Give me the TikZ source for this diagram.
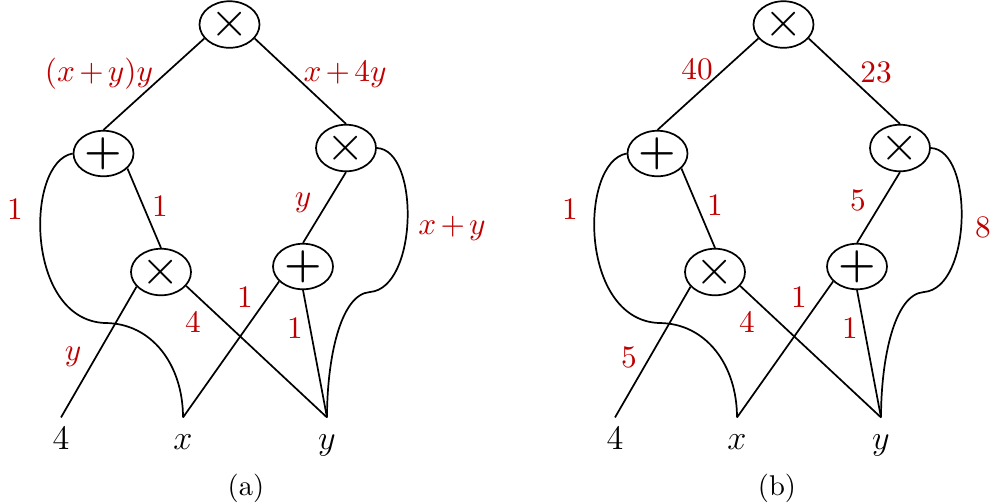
\documentclass[tikz,border=0pt]{standalone}
\usetikzlibrary{shapes.geometric}
\definecolor{lblred}{RGB}{192,0,0}
\newcommand\lblfont{\fontsize{11}{13}\selectfont\medmuskip=2.5mu\relax}
\newcommand\timesop{\fontsize{18}{18}\selectfont$\times$}
\tikzset{
  op/.style={ellipse, draw, line width=0.6pt, minimum width=21pt, minimum height=12.2pt, inner sep=0pt, font={\fontsize{15}{15}\selectfont}},
  leaf/.style={anchor=base, inner sep=0pt, text height=10.85pt, font={\fontsize{11.5}{13}\selectfont}},
  lbl/.style={text=lblred, inner sep=0pt, font=\lblfont},
  edge/.style={line width=0.6pt},
}
\newcommand\drawtree{%
  \node[op] (top) at (229.5,24.5) {\timesop};
  \node[op] (lp) at (103.5,153.5) {\bfseries +};
  \node[op] (rx) at (346,148) {\timesop};
  \node[op] (lx) at (161,272) {\timesop};
  \node[op] (lq) at (303,266.5) {\bfseries +};
  \node[leaf] (n4) at (61,449) {$4$};
  \node[leaf] (nx) at (183,449) {$x$};
  \node[leaf] (ny) at (327,449) {$y$};
  \draw[edge] (top.209) -- (lp.north);
  \draw[edge] (top.-29) -- (rx.north);
  \draw[edge] (lp.-32) -- (lx.north);
  \draw[edge] (rx.south) -- (lq.north);
  \draw[edge] (lx.211) -- (n4.north);
  \draw[edge] (lx.-29) -- (ny.north);
  \draw[edge] (lq.212) -- (nx.north);
  \draw[edge] (lq.south) -- (ny.north);
  \draw[edge] (lp.west) .. controls (25,162) and (25,320) .. (105,323)
        .. controls (152,323) and (183,365) .. (nx.north);
  \draw[edge] (rx.east) .. controls (420,150) and (418,288) .. (370,292)
        .. controls (340,294) and (327,360) .. (ny.north);
}
\begin{document}
\begin{tikzpicture}[x=0.35pt,y=-0.35pt]
\useasboundingbox (0,0) rectangle (990,503);
\begin{scope}[name prefix=a-]
  \drawtree
  \node[lbl] (a-l1) at (99,74) {$(x+y)y$};
  \node[lbl] (a-l2) at (345,74) {$x+4y$};
  \node[lbl] (a-l3) at (15,209) {$1$};
  \node[lbl] (a-l4) at (160,206) {$1$};
  \node[lbl] (a-l5) at (303,203) {$y$};
  \node[lbl] (a-l6) at (452,228) {$x+y$};
  \node[lbl] (a-l7) at (245,297) {$1$};
  \node[lbl] (a-l8) at (193,322) {$4$};
  \node[lbl] (a-l9) at (295,328) {$1$};
  \node[lbl] (a-l10) at (73,357) {$y$};
  \node (a-cap) at (246,488) {(a)};
\end{scope}
\begin{scope}[name prefix=b-, shift={(554,0)}]
  \drawtree
\end{scope}
\node[lbl] (b-l1) at (697,69) {$40$};
\node[lbl] (b-l2) at (876,72) {$23$};
\node[lbl] (b-l3) at (570,209) {$1$};
\node[lbl] (b-l4) at (715,205) {$1$};
\node[lbl] (b-l5) at (858,200) {$5$};
\node[lbl] (b-l6) at (983,227) {$8$};
\node[lbl] (b-l7) at (799,297) {$1$};
\node[lbl] (b-l8) at (747,322) {$4$};
\node[lbl] (b-l9) at (850,328) {$1$};
\node[lbl] (b-l10) at (629,357) {$5$};
\node (b-cap) at (777,488) {(b)};
\end{tikzpicture}
\end{document}
